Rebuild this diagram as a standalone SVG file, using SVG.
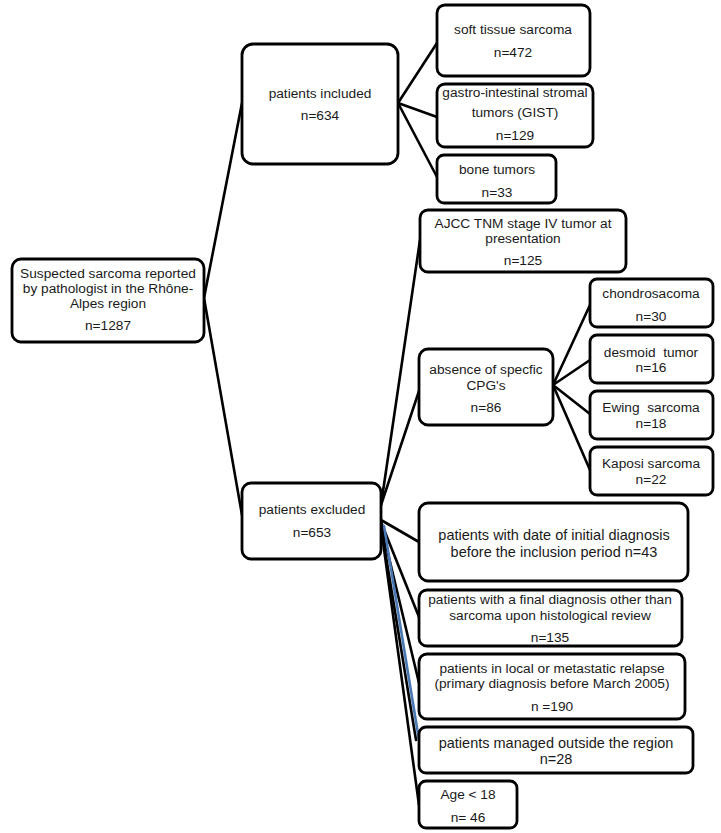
<svg xmlns="http://www.w3.org/2000/svg" width="721" height="833" viewBox="0 0 721 833">
<style>
rect{fill:#fff;stroke:#000;stroke-width:2.8}
text{font-family:"Liberation Sans",Arial,sans-serif;font-size:13.7px;fill:#1a1a1a;text-anchor:middle}
.big{font-size:14.5px}
#connectors line{stroke:#000;stroke-width:2.6;stroke-linecap:round}
</style>
<rect x="0" y="0" width="721" height="833" style="stroke:none;fill:#fff"/>
<g id="connectors">
<line x1="204" y1="298" x2="242" y2="103"/>
<line x1="204" y1="298" x2="242" y2="515"/>
<line x1="398" y1="103" x2="437" y2="43"/>
<line x1="398" y1="103" x2="437" y2="117"/>
<line x1="398" y1="103" x2="437" y2="177"/>
<line x1="381" y1="505" x2="420" y2="240"/>
<line x1="381" y1="505" x2="419" y2="391"/>
<line x1="553" y1="385" x2="590" y2="305"/>
<line x1="553" y1="385" x2="590" y2="360"/>
<line x1="553" y1="385" x2="590" y2="414"/>
<line x1="553" y1="385" x2="590" y2="470"/>
<line x1="381" y1="520" x2="419" y2="542"/>
<line x1="381" y1="522" x2="419" y2="617"/>
<line x1="381" y1="524" x2="419" y2="683"/>
<line x1="384" y1="526" x2="419" y2="740" style="stroke:#4a78b5"/>
<line x1="381" y1="526" x2="416" y2="740"/>
<line x1="381" y1="527" x2="419" y2="805"/>
</g>
<g id="root"><rect x="12" y="259" width="192" height="83" rx="9"/>
<text x="108" y="278">Suspected sarcoma reported</text>
<text x="108" y="293">by pathologist in the Rhône-</text>
<text x="108" y="308">Alpes region</text>
<text x="108" y="330">n=1287</text></g>
<g id="included"><rect x="242" y="44" width="156" height="120" rx="11"/>
<text x="320" y="98">patients included</text>
<text x="320" y="120">n=634</text></g>
<g id="soft"><rect x="437" y="5" width="153" height="71" rx="8"/>
<text x="513" y="34">soft tissue sarcoma</text>
<text x="513" y="57">n=472</text></g>
<g id="gist"><rect x="437" y="84" width="156" height="63" rx="8"/>
<text x="515" y="97">gastro-intestinal stromal</text>
<text x="515" y="117">tumors (GIST)</text>
<text x="515" y="140">n=129</text></g>
<g id="bone"><rect x="437" y="155" width="119" height="48" rx="7"/>
<text x="497" y="174">bone tumors</text>
<text x="497" y="197">n=33</text></g>
<g id="ajcc"><rect x="420" y="210" width="206" height="62" rx="8"/>
<text x="523" y="228">AJCC TNM stage IV tumor at</text>
<text x="523" y="243">presentation</text>
<text x="523" y="265">n=125</text></g>
<g id="absence"><rect x="419" y="349" width="134" height="76" rx="9"/>
<text x="486" y="374">absence of specfic</text>
<text x="486" y="390">CPG's</text>
<text x="486" y="412">n=86</text></g>
<g id="chondro"><rect x="590" y="279" width="123" height="48" rx="7"/>
<text x="651" y="298">chondrosacoma</text>
<text x="651" y="321">n=30</text></g>
<g id="desmoid"><rect x="590" y="335" width="123" height="48" rx="7"/>
<text x="651" y="357" xml:space="preserve">desmoid  tumor</text>
<text x="651" y="372">n=16</text></g>
<g id="ewing"><rect x="590" y="391" width="123" height="48" rx="7"/>
<text x="651" y="412" xml:space="preserve">Ewing  sarcoma</text>
<text x="651" y="428">n=18</text></g>
<g id="kaposi"><rect x="590" y="447" width="123" height="48" rx="7"/>
<text x="651" y="468">Kaposi sarcoma</text>
<text x="651" y="484">n=22</text></g>
<g id="excluded"><rect x="242" y="483" width="139" height="76" rx="9"/>
<text x="312" y="514">patients excluded</text>
<text x="312" y="537">n=653</text></g>
<g id="date"><rect x="419" y="503" width="269" height="78" rx="9"/>
<text class="big" x="554" y="540">patients with date of initial diagnosis</text>
<text class="big" x="554" y="557">before the inclusion period n=43</text></g>
<g id="finaldx"><rect x="419" y="590" width="263" height="56" rx="8"/>
<text x="550" y="604">patients with a final diagnosis other than</text>
<text x="550" y="620">sarcoma upon histological review</text>
<text x="550" y="642">n=135</text></g>
<g id="relapse"><rect x="419" y="654" width="266" height="65" rx="8"/>
<text x="552" y="673">patients in local or metastatic relapse</text>
<text x="552" y="688">(primary diagnosis before March 2005)</text>
<text x="552" y="711">n =190</text></g>
<g id="managed"><rect x="419" y="727" width="274" height="46" rx="7"/>
<text class="big" x="556" y="748">patients managed outside the region</text>
<text class="big" x="556" y="764">n=28</text></g>
<g id="age"><rect x="419" y="781" width="98" height="47" rx="7"/>
<text x="468" y="799">Age &lt; 18</text>
<text x="468" y="822">n= 46</text></g>
</svg>
